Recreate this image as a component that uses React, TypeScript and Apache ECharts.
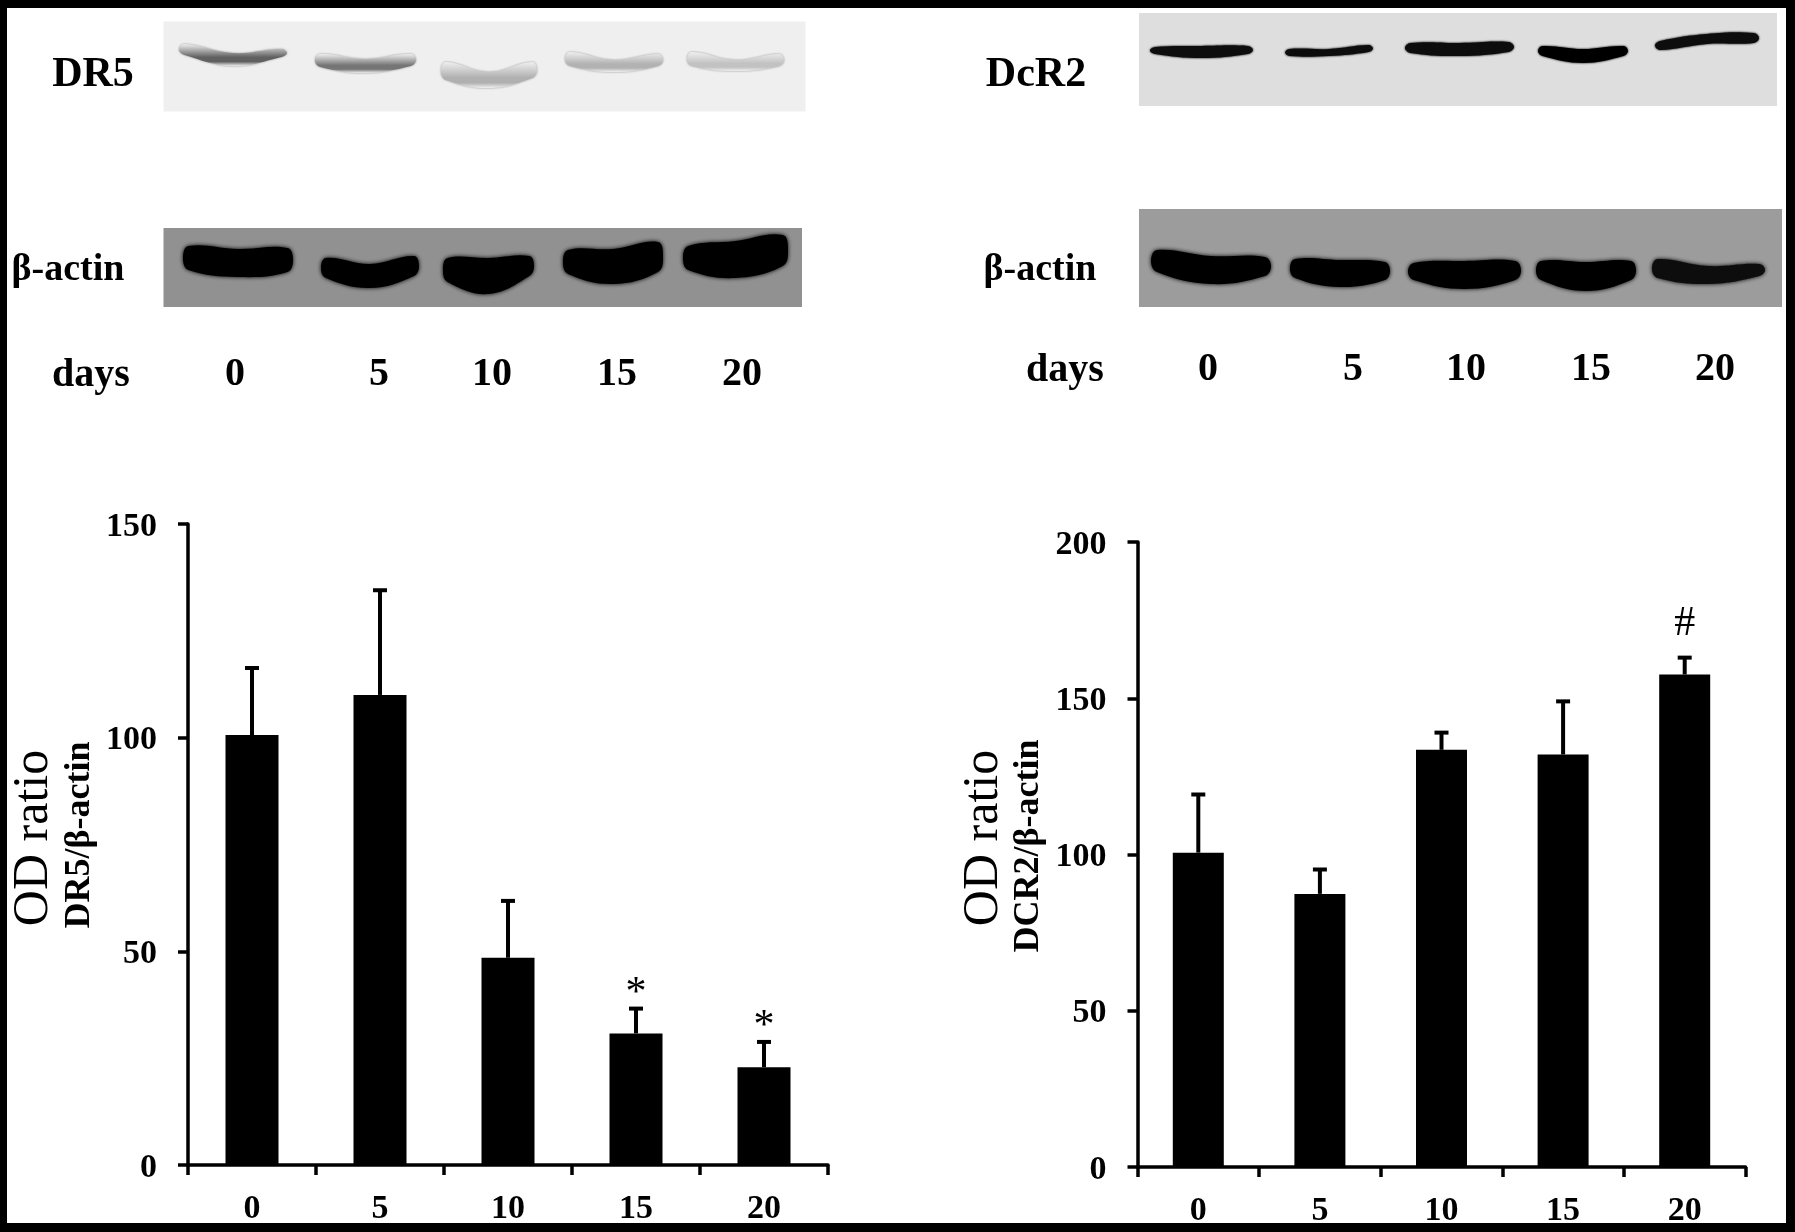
import React, { useEffect, useRef } from "react";
import * as echarts from "echarts";

const days = ["0", "5", "10", "15", "20"];
const dr5Values = [100.6, 110, 48.5, 30.8, 22.9];
const dr5ErrorTops = [116.3, 134.5, 61.8, 36.6, 28.8];
const dr5Marks = ["", "", "", "*", "*"];
const dcr2Values = [100.6, 87.4, 133.5, 132, 157.6];
const dcr2ErrorTops = [119.2, 95.2, 139, 149, 163];
const dcr2Marks = ["", "", "", "", "#"];
const dr5Ticks = { max: 150, interval: 50 };
const dcr2Ticks = { max: 200, interval: 50 };

const SERIF = "'Liberation Serif', 'Times New Roman', serif";

function band(
  x0: number, x1: number,
  lt: number, mt: number, rt: number,
  lb: number, mb: number, rb: number,
  fill: any, blur = 4
) {
  const xm = (x0 + x1) / 2;
  const inset = (x1 - x0) * 0.05;
  return {
    type: "polygon",
    shape: {
      points: [[x0, lt + (lb - lt) / 2], [x0 + inset, lt], [xm, mt], [x1 - inset, rt], [x1, rt + (rb - rt) / 2], [x1 - inset, rb], [xm, mb], [x0 + inset, lb]],
      smooth: 0.4,
    },
    style: { fill, shadowBlur: blur, shadowColor: typeof fill === "string" ? fill : "#999" },
  };
}

function fade(panel: string, dark: string) {
  return {
    type: "linear", x: 0, y: 0, x2: 0, y2: 1,
    colorStops: [
      { offset: 0, color: panel },
      { offset: 0.6, color: dark },
      { offset: 0.8, color: dark },
      { offset: 1, color: panel },
    ],
  };
}

function label(text: string, x: number, y: number, size: number, weight = "bold", rotation = 0) {
  return {
    type: "text", x, y, rotation,
    style: {
      text, fill: "#000", align: "center", verticalAlign: "middle",
      font: `${weight} ${size}px ${SERIF}`,
    },
  };
}

function panel(x: number, y: number, w: number, h: number, fill: string) {
  return { type: "rect", shape: { x, y, width: w, height: h }, style: { fill } };
}

function errorRender(marks: string[]) {
  return (params: any, api: any) => {
    const i = api.value(0);
    const base = api.coord([i, api.value(1)]);
    const top = api.coord([i, api.value(2)]);
    const line = { stroke: "#000", lineWidth: 4 };
    const children: any[] = [
      { type: "line", shape: { x1: top[0], y1: base[1], x2: top[0], y2: top[1] }, style: line },
      { type: "line", shape: { x1: top[0] - 7, y1: top[1], x2: top[0] + 7, y2: top[1] }, style: line },
    ];
    const mark = marks[params.dataIndex];
    if (mark) {
      const star = mark === "*";
      children.push({
        type: "text",
        style: {
          text: mark,
          x: top[0],
          y: top[1] - (star ? 18 : 37),
          fill: "#000",
          align: "center",
          verticalAlign: "middle",
          font: `${star ? 42 : 42}px ${SERIF}`,
        },
      });
    }
    return { type: "group", children };
  };
}

function axisPair(index: number, ticks: { max: number; interval: number }) {
  const axisLine = { show: true, lineStyle: { color: "#000", width: 3.5 } };
  const axisTick = { show: true, length: 10, lineStyle: { color: "#000", width: 3.5 } };
  return {
    x: {
      type: "category", gridIndex: index, data: days,
      axisLine, axisTick,
      axisLabel: { color: "#000", fontFamily: SERIF, fontWeight: "bold", fontSize: 34, margin: 24, interval: 0 },
    },
    y: {
      type: "value", gridIndex: index, min: 0, max: ticks.max, interval: ticks.interval,
      splitLine: { show: false },
      axisLine, axisTick,
      axisLabel: { color: "#000", fontFamily: SERIF, fontWeight: "bold", fontSize: 34, margin: 31 },
    },
  };
}

function barSeries(index: number, values: number[], width: number) {
  return {
    type: "bar", xAxisIndex: index, yAxisIndex: index, data: values,
    barWidth: width, itemStyle: { color: "#000" },
  };
}

function errorSeries(index: number, values: number[], tops: number[], marks: string[]) {
  return {
    type: "custom", xAxisIndex: index, yAxisIndex: index,
    data: values.map((v, i) => [i, v, tops[i]]),
    encode: { x: 0, y: [1, 2] },
    renderItem: errorRender(marks),
    z: 3, clip: false,
  };
}

export default function App() {
  const ref = useRef<HTMLDivElement>(null);
  useEffect(() => {
    const chart = echarts.init(ref.current!, undefined, { renderer: "svg" });
    const a = axisPair(0, dr5Ticks);
    const b = axisPair(1, dcr2Ticks);
    const light = "#efefef";
    const pale = "#dedede";
    const midL = "#919191";
    const midR = "#9c9c9c";
    chart.setOption({
      animation: false,
      backgroundColor: "#000",
      grid: [
        { left: 188, top: 524, width: 640, height: 641 },
        { left: 1137.5, top: 542, width: 608, height: 625 },
      ],
      xAxis: [a.x, b.x],
      yAxis: [a.y, b.y],
      series: [
        barSeries(0, dr5Values, 53),
        errorSeries(0, dr5Values, dr5ErrorTops, dr5Marks),
        barSeries(1, dcr2Values, 51),
        errorSeries(1, dcr2Values, dcr2ErrorTops, dcr2Marks),
      ],
      graphic: {
        elements: [
          { ...panel(7, 8, 1779, 1215, "#fff"), z: -10 },
          panel(163.5, 21.5, 642, 90, light),
          panel(163.5, 228, 638.5, 79, midL),
          panel(1139, 13, 638, 93, pale),
          panel(1139, 209, 643, 98, midR),

          band(179, 287, 44, 53, 49, 55, 66, 57, fade(light, "#606060"), 2),
          band(315, 416, 54, 59, 54, 67, 73, 66, fade(light, "#747474"), 2),
          band(441, 537, 62, 72, 62, 80, 88, 78, fade(light, "#b0b0b0"), 2),
          band(565, 663, 52, 60, 54, 66, 72, 66, fade(light, "#b2b2b2"), 2),
          band(687, 784, 52, 60, 54, 66, 71, 66, fade(light, "#c2c2c2"), 2),

          band(183, 293, 246, 249, 248, 270, 277, 272, "#050505"),
          band(321, 419, 258, 264, 256, 278, 288, 276, "#050505"),
          band(443, 534, 258, 258, 256, 282, 294, 276, "#030303"),
          band(563, 663, 250, 249, 242, 274, 284, 272, "#050505"),
          band(683, 788, 246, 241, 235, 270, 278, 266, "#050505"),

          band(1150, 1253, 47, 46, 46, 54, 58, 54, "#0c0c0c", 2),
          band(1285, 1373, 49, 49, 45, 56, 56, 52, "#111", 2),
          band(1405, 1514, 43, 43, 42, 53, 56, 52, "#0c0c0c", 2),
          band(1538, 1628, 46, 49, 46, 56, 63, 56, "#050505", 2),
          band(1655, 1759, 41, 34, 33, 50, 44, 43, "#0c0c0c", 2),

          band(1151, 1271, 250, 256, 257, 272, 284, 276, "#050505"),
          band(1290, 1390, 259, 260, 262, 278, 287, 280, "#050505"),
          band(1408, 1521, 263, 261, 261, 280, 289, 280, "#050505"),
          band(1536, 1636, 261, 262, 261, 280, 291, 280, "#050505"),
          band(1652, 1765, 259, 266, 264, 278, 284, 276, "#0a0a0a"),

          label("DR5", 93, 72, 42),
          label("\u03b2-actin", 68, 267, 38),
          label("days", 91, 372, 40),
          label("0", 235, 371, 40),
          label("5", 379, 371, 40),
          label("10", 492, 371, 40),
          label("15", 617, 371, 40),
          label("20", 742, 371, 40),
          label("DcR2", 1036, 72, 42),
          label("\u03b2-actin", 1040, 267, 38),
          label("days", 1065, 367, 40),
          label("0", 1208, 366, 40),
          label("5", 1353, 366, 40),
          label("10", 1466, 366, 40),
          label("15", 1591, 366, 40),
          label("20", 1715, 366, 40),

          label("OD ratio", 30, 838, 50, "normal", Math.PI / 2),
          label("DR5/\u03b2-actin", 77, 835, 36, "bold", Math.PI / 2),
          label("OD ratio", 980, 838, 50, "normal", Math.PI / 2),
          label("DCR2/\u03b2-actin", 1026, 846, 36, "bold", Math.PI / 2),
        ],
      },
    });
    return () => chart.dispose();
  }, []);
  return (
    <div
      ref={ref}
      style={{ position: "absolute", left: 0, top: 0, width: 1795, height: 1232, filter: "blur(0.6px)" }}
    />
  );
}
